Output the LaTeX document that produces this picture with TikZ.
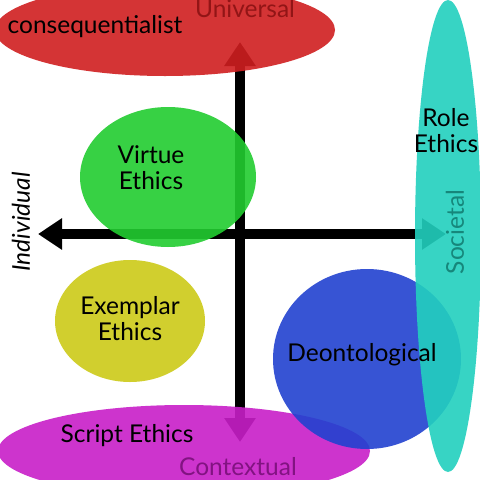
\documentclass[tikz,border=0pt]{standalone}
\usepackage{fontspec}
\setmainfont{Lato}
\usetikzlibrary{arrows.meta,shapes.geometric}
\definecolor{cred}{HTML}{D01E20}
\definecolor{cteal}{HTML}{22D0BE}
\definecolor{cgreen}{HTML}{22CC30}
\definecolor{cyellow}{HTML}{CCCA18}
\definecolor{cblue}{HTML}{2242D0}
\definecolor{cmag}{HTML}{C81EC8}
\tikzset{
  blob/.style={ellipse, inner sep=0pt, fill opacity=0.9, draw=none},
  axis/.style={line width=10pt, -{Triangle[width=30pt,length=24pt]}},
  lab/.style={font=\fontsize{24.5}{26}\selectfont, align=center, text=black, inner sep=0pt},
}
\begin{document}
\begin{tikzpicture}[x=1pt,y=-1pt]
\useasboundingbox (0,0) rectangle (480,480);
\clip (0,0) rectangle (480,480);
\fill[white] (0,0) rectangle (480,480);
% axes
\coordinate (o) at (240,234);
\coordinate (top) at (240,42);
\coordinate (bot) at (240,442);
\coordinate (lft) at (38,234);
\coordinate (rgt) at (446,234);
\draw[axis] (240,236) -- (top);
\draw[axis] (240,232) -- (bot);
\draw[axis] (242,234) -- (lft);
\draw[axis] (238,234) -- (rgt);
% ellipses
\node[blob, fill=cred, minimum width=340pt, minimum height=92pt] (red) at (165,30) {};
\node[blob, fill=cmag, minimum width=372pt, minimum height=92pt] (mag) at (184,451) {};
\node[blob, fill=cgreen, minimum width=176pt, minimum height=140pt] (green) at (168,177) {};
\node[blob, fill=cyellow, minimum width=150pt, minimum height=122pt] (yellow) at (130,321) {};
\node[blob, fill=cblue, minimum width=188pt, minimum height=180pt] (blue) at (367,359) {};
\node[blob, fill=cteal, minimum width=66pt, minimum height=472pt] (teal) at (448,236) {};
% labels
\node[lab] (conseq) at (95,27) {consequentialist};
\node[lab, text=cred!70!black] (univ) at (245,9) {Universal};
\node[lab] (virtue) at (151,168) {Virtue\\Ethics};
\node[lab] (role) at (446,131) {Role\\Ethics};
\node[lab, text=cteal!65!black, rotate=90] (soc) at (455,232) {Societal};
\node[lab, font=\fontsize{24.5}{26}\selectfont\itshape, rotate=90] (indiv) at (21,222) {Individual};
\node[lab] (exemplar) at (130,319) {Exemplar\\Ethics};
\node[lab] (deon) at (362,355) {Deontological};
\node[lab] (script) at (127,436) {Script Ethics};
\node[lab, text=cmag!65!black] (context) at (238,467) {Contextual};
\end{tikzpicture}
\end{document}
